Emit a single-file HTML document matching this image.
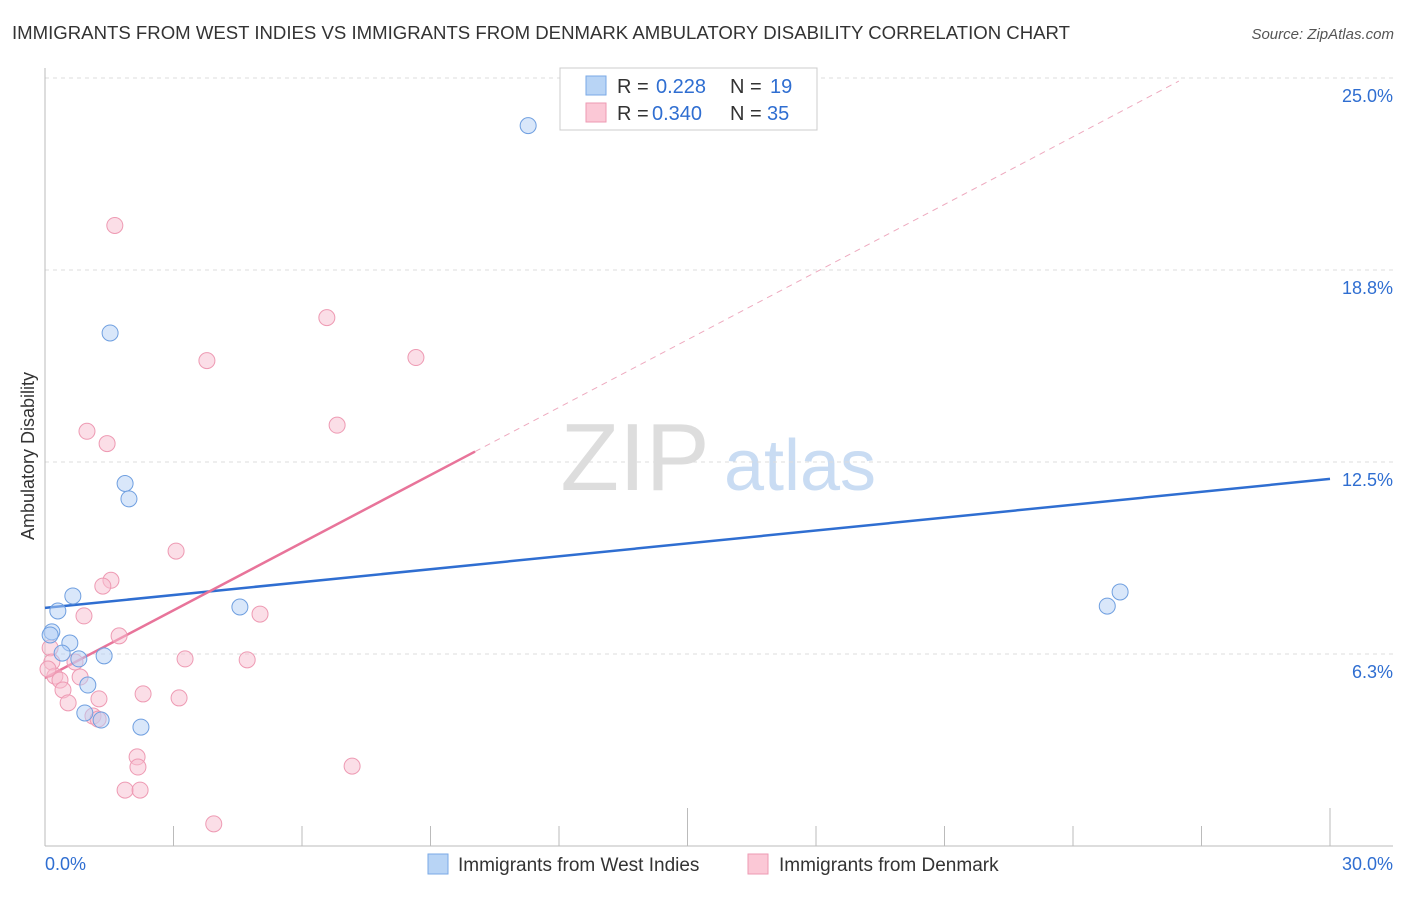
<!DOCTYPE html>
<html><head><meta charset="utf-8"><style>
body{margin:0;background:#fff;font-family:"Liberation Sans",sans-serif;}
svg text{font-family:"Liberation Sans",sans-serif;}
</style></head><body>
<svg id="chart" width="1406" height="892" xmlns="http://www.w3.org/2000/svg">
<text x="12" y="39" font-size="18" fill="#333" textLength="1058" lengthAdjust="spacingAndGlyphs">IMMIGRANTS FROM WEST INDIES VS IMMIGRANTS FROM DENMARK AMBULATORY DISABILITY CORRELATION CHART</text>
<text x="1394" y="39" font-size="15" fill="#555" font-style="italic" text-anchor="end">Source: ZipAtlas.com</text>
<text transform="translate(34,456) rotate(-90)" font-size="18" fill="#333" text-anchor="middle">Ambulatory Disability</text>
<g><text x="635" y="490" font-size="96" fill="#ddd" font-family="Liberation Serif" text-anchor="middle">ZIP</text><text x="800" y="490" font-size="72" fill="#c9dcf3" text-anchor="middle">atlas</text></g>
<g id="grid"></g><g id="axes"></g><g id="lines"></g><g id="pts"></g>
<g>
<rect x="560" y="68" width="257" height="62" fill="#fff" stroke="#ccc"/>
<rect x="586" y="76" width="20" height="19" fill="#b8d4f5" stroke="#7aa9e6"/>
<rect x="586" y="103" width="20" height="19" fill="#fbc8d6" stroke="#ee9ab3"/>
<text x="617" y="93" font-size="20" fill="#333">R =</text><text x="656" y="93" font-size="20" fill="#2f6ed1">0.228</text>
<text x="730" y="93" font-size="20" fill="#333">N =</text><text x="770" y="93" font-size="20" fill="#2f6ed1">19</text>
<text x="617" y="120" font-size="20" fill="#333">R =</text><text x="652" y="120" font-size="20" fill="#2f6ed1">0.340</text>
<text x="730" y="120" font-size="20" fill="#333">N =</text><text x="767" y="120" font-size="20" fill="#2f6ed1">35</text>
</g>
<g>
<rect x="428" y="854" width="20" height="20" fill="#b8d4f5" stroke="#7aa9e6"/>
<text x="458" y="871" font-size="19" fill="#333">Immigrants from West Indies</text>
<rect x="748" y="854" width="20" height="20" fill="#fbc8d6" stroke="#ee9ab3"/>
<text x="779" y="871" font-size="19" fill="#333">Immigrants from Denmark</text>
</g>
</svg>
<script>
const yTicks=[6.25,12.5,18.75,25];
const yTickLabels=["6.3%","12.5%","18.8%","25.0%"];
const xTickLabels=["0.0%","30.0%"];
const blueX=[11.28,1.52,1.87,1.96,0.65,0.30,4.55,0.16,0.12,0.58,0.40,0.79,1.38,1.00,0.93,1.31,2.24,24.8,25.1];
const blueY=[23.45,16.7,11.8,11.3,8.14,7.65,7.78,6.97,6.87,6.61,6.28,6.09,6.19,5.24,4.33,4.1,3.87,7.81,8.27];
const pinkX=[1.63,6.58,3.78,8.66,0.98,6.82,1.45,3.06,1.54,1.35,0.91,5.02,1.73,3.27,4.72,0.12,0.16,0.70,0.23,0.35,0.82,0.42,2.29,3.13,1.26,0.54,1.12,1.24,2.15,2.17,7.17,1.87,2.22,3.94,0.07];
const pinkY=[20.2,17.2,15.8,15.9,13.5,13.7,13.1,9.6,8.65,8.46,7.49,7.55,6.84,6.09,6.06,6.45,5.99,5.99,5.53,5.40,5.50,5.08,4.95,4.82,4.79,4.66,4.23,4.13,2.9,2.57,2.6,1.82,1.82,0.72,5.76];
const blueLine=[7.75,11.95];
const pinkLine=[5.47,27.49];
const pinkSolidEnd=10.04;
const NS="http://www.w3.org/2000/svg";
const X=v=>45+v/30*1285, Y=v=>846-v/25*768;
function mk(tag,attrs,parent){const e=document.createElementNS(NS,tag);for(const k in attrs)e.setAttribute(k,attrs[k]);document.getElementById(parent).appendChild(e);return e;}
yTicks.forEach((t,i)=>{
 const g=mk('line',{x1:45,x2:1393,y1:Y(t),y2:Y(t),stroke:'#ddd','stroke-dasharray':'4,4'},'grid');
 
 
 const l=mk('text',{x:1393,y:Y(t)+24,'font-size':18,fill:'#2f6ed1','text-anchor':'end'},'grid');l.textContent=yTickLabels[i];
 
 
});
let a=mk('line',{x1:45,x2:45,y1:68,y2:846,stroke:'#bbb'},'axes');


a=mk('line',{x1:45,x2:1393,y1:846,y2:846,stroke:'#bbb'},'axes');


for(let i=1;i<=10;i++){const t=mk('line',{x1:X(i*3),x2:X(i*3),y1:(i==5||i==10)?808:826,y2:846,stroke:'#bbb'},'axes');
 
 }
[[0,'start',45],[30,'end',1393]].forEach((d,i)=>{const t=mk('text',{x:d[2],y:870,'font-size':18,fill:'#2f6ed1','text-anchor':d[1]},'axes');t.textContent=xTickLabels[i];
 
 });
let ln=mk('line',{x1:X(0),y1:Y(blueLine[0]),x2:X(30),y2:Y(blueLine[1]),stroke:'#2f6ed1','stroke-width':2.5},'lines');


const py=x=>pinkLine[0]+(pinkLine[1]-pinkLine[0])*x/30;
ln=mk('line',{x1:X(0),y1:Y(py(0)),x2:X(pinkSolidEnd),y2:Y(py(pinkSolidEnd)),stroke:'#e8749a','stroke-width':2.5},'lines');


const xEnd=(24.9-pinkLine[0])/(pinkLine[1]-pinkLine[0])*30;
ln=mk('line',{x1:X(pinkSolidEnd),y1:Y(py(pinkSolidEnd)),x2:X(xEnd),y2:Y(py(xEnd)),stroke:'#eeaabf','stroke-width':1,'stroke-dasharray':'6,5'},'lines');


pinkX.forEach((v,i)=>{const c=mk('circle',{cx:X(v),cy:Y(pinkY[i]),r:8,fill:'rgba(248,190,208,0.5)',stroke:'#ee9ab3','stroke-width':1},'pts');
 
 });
blueX.forEach((v,i)=>{const c=mk('circle',{cx:X(v),cy:Y(blueY[i]),r:8,fill:'rgba(180,208,245,0.5)',stroke:'#6f9fe0','stroke-width':1},'pts');
 
 });
</script>
</body></html>
